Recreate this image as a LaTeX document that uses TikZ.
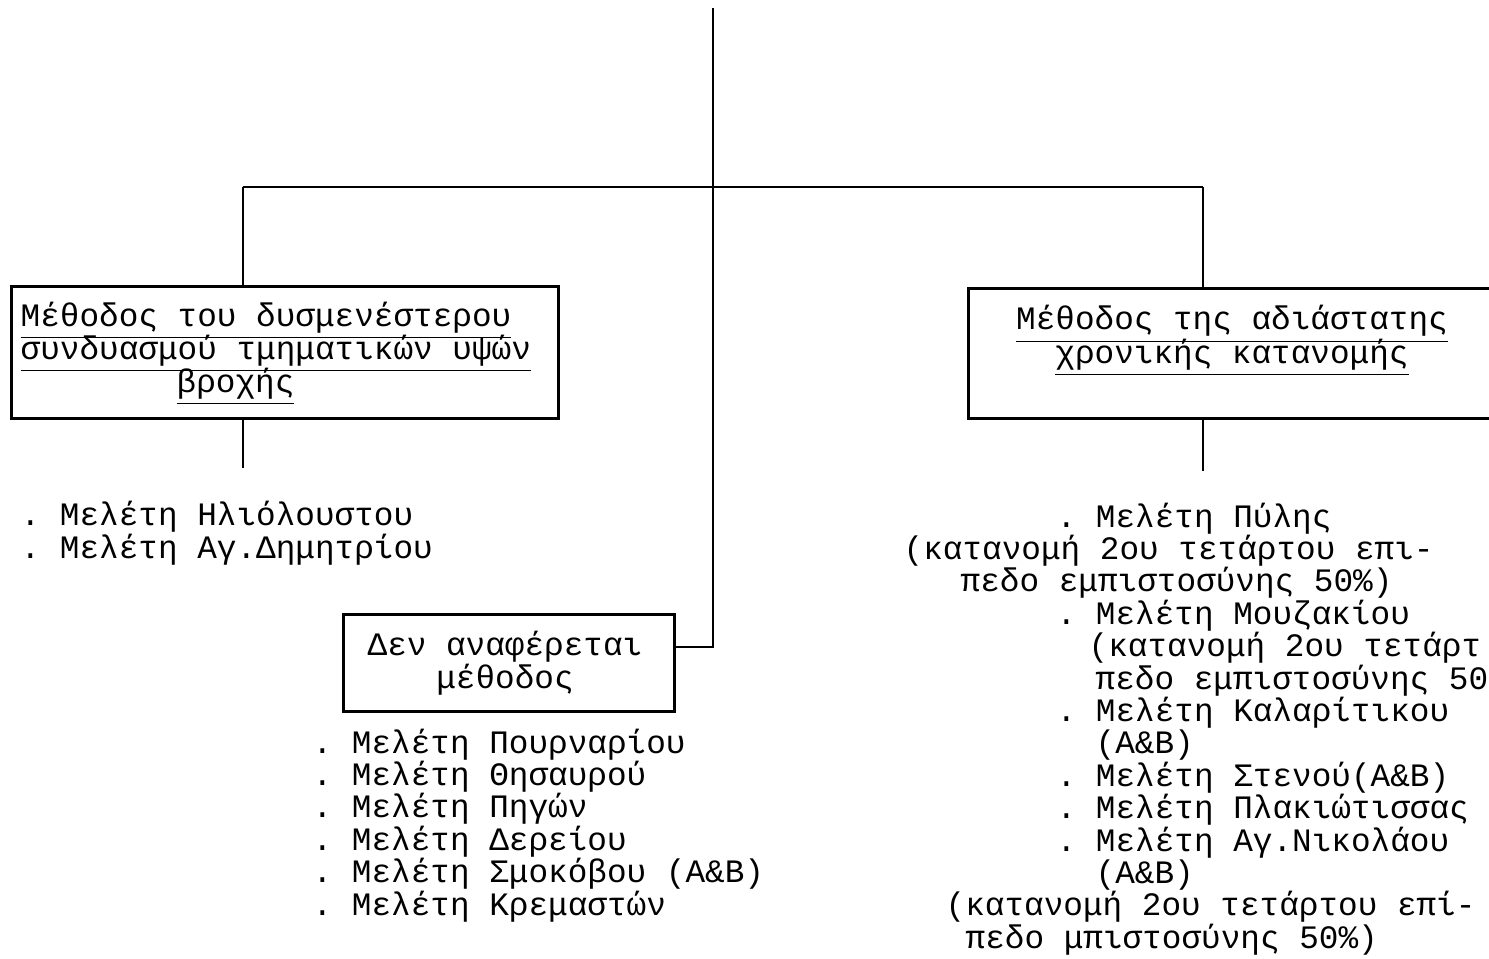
\documentclass[tikz,border=0pt]{standalone}
\usepackage{fontspec}
\newfontfamily\typewriter{Liberation Mono}
\frenchspacing

\tikzset{
  methodbox/.style={draw, line width=0.8pt, inner sep=0pt, anchor=north west},
  ln/.style={anchor=base west, inner sep=0pt, font=\typewriter\fontsize{9.3pt}{9.3pt}\selectfont},
  cln/.style={ln, anchor=base},
  wire/.style={line width=0.8pt},
}

\begin{document}
\begin{tikzpicture}[x=0.01cm,y=-0.01cm]
  \useasboundingbox (0,0) rectangle (1489,958);

  % boxes
  \node[methodbox, minimum width=5.47cm, minimum height=1.32cm] (lbox) at (10,285) {};
  \node[methodbox, minimum width=3.31cm, minimum height=0.97cm] (mbox) at (342,613) {};
  \node[methodbox, minimum width=5.70cm, minimum height=1.30cm] (rbox) at (967,287) {};

  % tree lines
  \coordinate (top) at (713,8);
  \coordinate (lup) at (243,187);
  \coordinate (rup) at (1203,187);
  \coordinate (mjoin) at (673,647);
  \draw[wire] (lup) -- (rup);
  \draw[wire] (top) |- (mjoin);
  \draw[wire] (lup) -- (lup |- lbox.north);
  \draw[wire] (rup) -- (rup |- rbox.north);
  \draw[wire] (lbox.south -| lup) -- ++(0,48);
  \draw[wire] (rbox.south -| rup) -- ++(0,51);

  % box titles
  \node[ln] (l1) at (20,326) {\underline{Μέθοδος του δυσμενέστερου}};
  \node[ln] (l2) at (20,359) {\underline{συνδυασμού τμηματικών υψών}};
  \node[ln] (l3) at (176,392) {\underline{βροχής}};
  \node[cln] (r1) at (1232,330) {\underline{Μέθοδος της αδιάστατης}};
  \node[cln] (r2) at (1232,363) {\underline{χρονικής κατανομής}};
  \node[cln] (m1) at (505,655) {Δεν αναφέρεται};
  \node[cln] (m2) at (505,688) {μέθοδος};

  % lists of studies
  \node[ln] (a0) at (20,525) {. Μελέτη Ηλιόλουστου};
  \node[ln] (a1) at (20,558) {. Μελέτη Αγ.Δημητρίου};

  \foreach \t [count=\i from 0] in {Πουρναρίου,Θησαυρού,Πηγών,Δερείου,Σμοκόβου (A\&B),Κρεμαστών}
    \node[ln] (b\i) at (312,{753+32.4*\i}) {. Μελέτη \t};

  \foreach \x/\t [count=\i from 0] in {
      1056/{. Μελέτη Πύλης},
      903/{(κατανομή 2ου τετάρτου επι-},
      960/{πεδο εμπιστοσύνης 50\%)},
      1056/{. Μελέτη Μουζακίου},
      1088/{(κατανομή 2ου τετάρτ},
      1095/{πεδο εμπιστοσύνης 50},
      1056/{. Μελέτη Καλαρίτικου},
      1095/{(A\&B)},
      1056/{. Μελέτη Στενού(A\&B)},
      1056/{. Μελέτη Πλακιώτισσας},
      1056/{. Μελέτη Αγ.Νικολάου},
      1095/{(A\&B)},
      945/{(κατανομή 2ου τετάρτου επί-},
      965/{πεδο μπιστοσύνης 50\%)}}
    \node[ln] (c\i) at (\x,{527+32.4*\i}) {\t};
\end{tikzpicture}
\end{document}
